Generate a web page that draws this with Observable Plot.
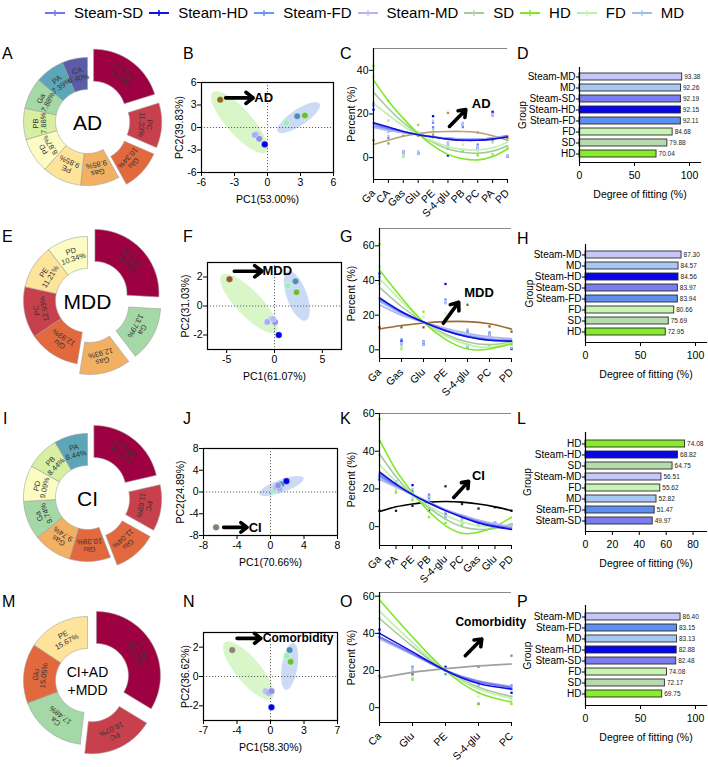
<!DOCTYPE html>
<html><head><meta charset="utf-8">
<script src="https://cdn.jsdelivr.net/npm/d3@7"></script>
<script src="https://cdn.jsdelivr.net/npm/@observablehq/plot@0.6"></script>
<style>
body{margin:0;background:#fff;font-family:"Liberation Sans",Arial,sans-serif;}
#root{position:relative;width:708px;height:767px;overflow:hidden;background:#fff;}
.p{position:absolute;}
.letter{position:absolute;font-size:16px;line-height:16px;color:#000;}
#legend{position:absolute;left:45px;top:4px;display:flex;align-items:center;font-size:15px;white-space:nowrap;}
#legend .it{display:flex;align-items:center;margin-right:6px;}
#legend svg{margin-right:9px;}
</style></head>
<body><div id="root"></div>
<script>
// ---------------- DATA ----------------
const allGroups = ["Steam-SD","Steam-HD","Steam-FD","Steam-MD","SD","HD","FD","MD"];

// Donuts
const adCats = ["S-4-glu","PC","Glu","Gas","PE","PD","PB","Ga","PA","CA"];
const adPct = [20.20,11.33,10.34,9.85,9.85,8.87,7.88,7.88,7.39,6.40];
const mddCats = ["S-4-glu","Ga","Gas","Glu","PC","PE","PD"];
const mddPct = [25.86,13.79,12.93,12.93,12.93,11.21,10.34];
const ciCats = ["S-4-glu","PC","Glu","Glu","Gas","Ga","PD","PB","PA"];
const ciPct = [21.43,11.69,11.04,10.39,9.74,9.74,9.09,8.44,8.44];
const comCats = ["S-4-glu","PC","Ca","Glu","PE"];
const comPct = [33.73,18.07,17.48,15.05,15.67];

// PCA scores
const pcaBGroups = ["AD","MD","HD","FD","Steam-MD","Steam-FD","Steam-SD","Steam-HD"];
const pcaBX = [-4.3,2.7,3.4,1.7,-1.0,-1.15,-0.75,-0.25];
const pcaBY = [3.7,1.5,1.6,0.6,-0.9,-1.0,-1.5,-2.25];
const pcaFGroups = ["MDD","MD","FD","HD","Steam-MD","Steam-FD","Steam-SD","Steam-MD","Steam-HD"];
const pcaFX = [-4.7,2.2,1.4,2.3,-0.35,-0.75,0.05,-0.15,0.45];
const pcaFY = [1.85,1.7,1.4,0.95,-0.9,-1.1,-1.1,-0.9,-2.0];
const pcaJGroups = ["CI","MD","HD","FD","Steam-MD","Steam-FD","Steam-SD","Steam-HD"];
const pcaJX = [-6.5,1.3,1.0,0.4,0.6,1.1,0.9,1.9];
const pcaJY = [-6.5,1.4,0.9,0.3,0.8,0.6,1.2,2.0];
const pcaNGroups = ["Comorbidity","MD","FD","HD","Steam-MD","Steam-FD","Steam-SD","Steam-HD"];
const pcaNX = [-4.0,2.0,1.7,2.1,-0.5,-0.2,0.1,0.1];
const pcaNY = [1.8,1.8,1.4,1.0,-1.0,-1.1,-1.0,-2.1];

// Confidence ellipses: center, semi-axis vector a, semi-axis vector b (PC units)
const ellB = [{cx:-2.55,cy:0.7,ax:2.45,ay:-4.0,bx:0.85,by:1.14,g:"green"},{cx:2.83,cy:1.32,ax:1.9,ay:1.86,bx:0.4,by:-0.9,g:"blue"}];
const ellF = [{cx:-2.65,cy:0.17,ax:2.83,ay:-1.97,bx:0.99,by:0.575,g:"green"},{cx:2.33,cy:0.7,ax:0.92,ay:-1.7,bx:1.0,by:0.22,g:"blue"}];
const ellJ = [{cx:1.3,cy:1.1,ax:2.6,ay:1.6,bx:-0.6,by:0.9,g:"blue"}];
const ellN = [{cx:-2.3,cy:0.4,ax:2.5,ay:-1.9,bx:0.9,by:0.6,g:"green"},{cx:2.0,cy:0.7,ax:0.4,ay:1.6,bx:0.8,by:-0.1,g:"blue"}];

// Line-chart categories; rows follow allGroups then the disease
const adCatsC = ["Ga","CA","Gas","Glu","PE","S-4-glu","PB","PC","PA","PD"];
const adPoints = [
 [25,12,2,2.5,16,6,15.5,5,20,1],
 [22,13,3,2,19,1,15,4,21,0.5],
 [24,9,1,2,14,7,14,6,19.5,0.5],
 [25,12,3,3,17,7,15,5,20,1],
 [37,17,1.5,11,9,5,3.5,1.5,7,5],
 [42,26,0.5,15,13,4,3,1,1.5,4],
 [37,20,1,12,10,6,6,3,9,8],
 [24,10,2,2,13,6,16,4,19,0.5],
 [8,6.5,10,10,10.5,20.5,8,11.5,8,9]];
const adCurves = [
 [15.5,13.5,12,10.5,9.5,8.5,8,8,8.5,10],
 [16,14,12,10.5,9.5,8.5,8,8,8.5,9.5],
 [14.5,13,11.5,10.5,9.5,9,8.5,8.5,9,10],
 [14,12.5,11.5,10.5,9.5,9,8.5,8.5,9,10],
 [30,22.5,16,11,7,4,2.5,2,3,5.5],
 [35.5,26,18,11,5.5,1.5,-0.5,-1,0.5,4],
 [25,19.5,14.5,10.5,7.5,5,3.8,3.5,4.5,7],
 [14,12.5,11.5,10.5,9.5,9,8.5,8.5,9,10],
 [6,8,9.8,11,11.8,12,12,11.5,10,8]];

const mddCatsG = ["Ga","Gas","Glu","PE","S-4-glu","PC","PD"];
const mddPoints = [
 [42,3.5,4,29,11,9,1],
 [44,5,3,38,1.5,8,0.5],
 [40,6,5,27,10,10,4],
 [38,4,3,28,12,8,5],
 [48,2,16,18,3,2,4],
 [61,0.5,22,17,1.5,1.5,3],
 [55,1,19,21,2,2,5],
 [43,3,4.5,27,2,9,1],
 [13,13,13,11.5,26,13.5,10.5]];
const mddCurves = [
 [30,22,16,11,7.5,5.5,5],
 [30,22,16,11,7.5,5.5,5],
 [29,21.5,16,11.5,8,6,5.5],
 [26,20,16,12.5,9.5,7.5,6.5],
 [36,25,16,9,4.5,3,4.5],
 [46,30,16,6,0.5,0.5,3.5],
 [41,28,16,8,3,1.5,4],
 [28,21,16,11.5,8.5,6.5,5.5],
 [12,14,15.5,16.3,16.3,15,12]];

const ciCatsK = ["Ga","PA","PE","PB","S-4-glu","PC","Gas","Glu","PD"];
const ciPoints = [
 [27,23,18,17,7,4,2,2,1],
 [25,24,22,16,6,2,2,2,1],
 [26,23,19,15,5,5,2.5,2,1],
 [28,22,18,16,8,6,3,2,1],
 [38,19,15,10,5,3,1.5,1,1],
 [57,18,14,5,2,1,0.5,0.5,1],
 [45,20,16,8,4,2,1,1,1],
 [26,24,20,14,5,4,1.5,2,1],
 [8.4,8.4,11,8.4,21.4,12,9.6,10.3,8.4]];
const ciCurves = [
 [28,22,17,12.5,8.5,5.5,2.5,0.5,-1],
 [29,22.5,17,12.5,8.5,5,2,0,-1.5],
 [27,21.5,17,12.5,9,5.5,3,1,-0.5],
 [25,21,17,13,9,6,3.5,1.5,0],
 [38.5,26.5,17,10,4,0,-1.5,-1,1.5],
 [46,30,18,8,0.5,-3.5,-3,0,5],
 [33,24,17,11,6,2.5,0.5,0,0.5],
 [26,21,17,13,9,6,3,1,0],
 [8,10.5,12,13,13.3,13,12,10.5,8.5]];

const comCatsO = ["Ca","Glu","PE","S-4-glu","PC"];
const comPoints = [
 [40,20,20,12,10],
 [42,18,22,2,8],
 [38,22,18,14,12],
 [40,20,21,12,11],
 [48,16,20,8,6],
 [60,15,20,2,2],
 [52,18,20,6,4],
 [40,21,20,12,10],
 [17,18,20,22,28]];
const comCurves = [
 [38,29,20,14,11],
 [40,30,20,13,10],
 [38,29,20,14,11],
 [37,28.5,20,14.5,11.5],
 [48,33,20,11,6],
 [58,38,20,8,3],
 [52,35,20,10,5],
 [38,29,20,14,11],
 [16,19,21,22.5,23.5]];

// Degree of fitting bars
const adBarGroups = ["Steam-MD","MD","Steam-SD","Steam-HD","Steam-FD","FD","SD","HD"];
const adBarValues = [93.38,92.26,92.19,92.15,92.11,84.68,79.88,70.04];
const mddBarGroups = ["Steam-MD","MD","Steam-HD","Steam-SD","Steam-FD","FD","SD","HD"];
const mddBarValues = [87.30,84.57,84.56,83.97,83.94,80.66,75.69,72.95];
const ciBarGroups = ["HD","Steam-HD","SD","Steam-MD","FD","MD","Steam-FD","Steam-SD"];
const ciBarValues = [74.08,68.82,64.75,56.51,55.62,52.82,51.47,49.97];
const comBarGroups = ["Steam-MD","Steam-FD","MD","Steam-HD","Steam-SD","FD","SD","HD"];
const comBarValues = [86.40,83.15,83.13,82.88,82.48,74.08,72.17,69.75];

// ---------------- STYLES ----------------
const groupFill = ["#7b7cf0","#0606e8","#5d8ff0","#c6c6f8","#b6dcae","#86ec2c","#c8f4b4","#a8c8f4"];
const curveStroke = ["#7676ec","#1010e0","#6a96ee","#b4b4f2","#a8c8a0","#7ce82a","#bff0a8","#9cbcf0"];
const spectral = {"S-4-glu":"#9e0142","PC":"#c8404c","Glu":"#e2683e","Gas":"#f2b062","PE":"#fde49a","PD":"#fcfcc2","PB":"#d8eea0","Ga":"#a4d8a6","PA":"#5ca6b8","CA":"#5a5ca8","Ca":"#a4d8a6"};
const pcaColor = {"AD":"#8b6d14","MDD":"#8b5a1e","CI":"#8b7b6b","Comorbidity":"#8a8272","MD":"#4b8fb8","HD":"#6cc030","FD":"#98f0b8","Steam-MD":"#b4bcf8","Steam-FD":"#a0b0f0","Steam-SD":"#9090e8","Steam-HD":"#0000ee"};
const ellColor = {green:"#d6f5c4", blue:"#c8d9f6"};
const font = "'Liberation Sans', Arial, sans-serif";
const baseStyle = {background:"transparent", fontFamily:font, fontSize:"10px", overflow:"visible", color:"#000"};
const num = d => String(d);

const root = document.getElementById("root");
function place(node, left, top){ node.classList.add("p"); node.style.left = left+"px"; node.style.top = top+"px"; root.appendChild(node); }

// ---------------- LEGEND ----------------
{
  const lg = document.createElement("div"); lg.id = "legend";
  allGroups.forEach((g,i) => {
    const it = document.createElement("div"); it.className = "it";
    it.innerHTML = `<svg width="20" height="10"><line x1="0" y1="5" x2="20" y2="5" stroke="${curveStroke[i]}" stroke-width="2"/><line x1="10" y1="2" x2="10" y2="8" stroke="${groupFill[i]}" stroke-width="1.5"/></svg><span>${g}</span>`;
    lg.appendChild(it);
  });
  root.appendChild(lg);
}

// ---------------- LETTERS ----------------
[["A",2,46],["B",183,46],["C",340,46],["D",517,46],
 ["E",2,229],["F",183,229],["G",340,229],["H",517,231],
 ["I",3,411],["J",183,411],["K",340,411],["L",517,411],
 ["M",2,594],["N",183,594],["O",340,594],["P",517,594]].forEach(([t,x,y])=>{
  const d = document.createElement("div"); d.className="letter"; d.textContent=t; d.style.left=x+"px"; d.style.top=y+"px"; root.appendChild(d);
});

// ---------------- DONUT ----------------
function donut(cats, pct, nExplode, center, centerSize, cx, cy){
  const size = 176, R = 1, r0 = 0.5, ex = 0.16, half = 1.375;
  const total = d3.sum(pct);
  let a = 0; const polys = [], labs = [];
  pct.forEach((p,k) => {
    const a0 = a, a1 = a + p/total*2*Math.PI; a = a1;
    const m = (a0+a1)/2, e = k < nExplode ? ex : 0;
    const ox = e*Math.sin(m), oy = e*Math.cos(m);
    const steps = Math.max(8, Math.ceil((a1-a0)/0.02));
    const ring = [];
    for (let s=0;s<=steps;s++){ const t=a0+(a1-a0)*s/steps; ring.push([ox+R*Math.sin(t), oy+R*Math.cos(t)]); }
    for (let s=steps;s>=0;s--){ const t=a0+(a1-a0)*s/steps; ring.push([ox+r0*Math.sin(t), oy+r0*Math.cos(t)]); }
    ring.push(ring[0]);
    ring.forEach(([x,y]) => polys.push({k, x, y, c: spectral[cats[k]]}));
    labs.push({x: ox+0.75*Math.sin(m), y: oy+0.75*Math.cos(m), rot: m*180/Math.PI, text: cats[k]+"\n"+p.toFixed(2)+"%"});
  });
  const svg = Plot.plot({
    width:size, height:size, margin:0, style:baseStyle,
    x:{domain:[-half,half], axis:null}, y:{domain:[-half,half], axis:null},
    color:{type:"identity"},
    marks:[
      Plot.line(polys, {x:"x", y:"y", z:"k", fill:"c", stroke:"#a0a0a0", strokeWidth:0.6, curve:"linear"}),
      Plot.text(labs, {x:"x", y:"y", text:"text", rotate:"rot", fontSize:7.5, fill:"#333", lineHeight:1.05}),
      Plot.text([center], {x:0, y:0, text:d=>d, fontSize:centerSize, fill:"#000", lineHeight:1.25})
    ]
  });
  place(svg, cx - size/2, cy - size/2);
}
donut(adCats, adPct, 3, "AD", 21, 87, 121);
donut(mddCats, mddPct, 3, "MDD", 21, 87, 300);
donut(ciCats, ciPct, 3, "CI", 21, 87, 497);
donut(comCats, comPct, 2, "CI+AD\n+MDD", 14, 87, 680);

// ---------------- PCA ----------------
function pca(o){
  const pts = o.groups.map((g,i)=>({g, x:o.xs[i], y:o.ys[i]}));
  const ell = [];
  o.ells.forEach((e,k)=>{ for(let s=0;s<=96;s++){ const t=s/96*2*Math.PI; ell.push({k, c:ellColor[e.g], x:e.cx+e.ax*Math.cos(t)+e.bx*Math.sin(t), y:e.cy+e.ay*Math.cos(t)+e.by*Math.sin(t)}); } });
  const svg = Plot.plot({
    width:o.w, height:o.h, marginLeft:o.m[0], marginRight:o.m[1], marginTop:o.m[2], marginBottom:o.m[3],
    style:baseStyle,
    x:{domain:o.xdom}, y:{domain:o.ydom},
    color:{type:"identity"},
    marks:[
      Plot.line(ell, {x:"x", y:"y", z:"k", fill:"c", stroke:"none", fillOpacity:0.95}),
      Plot.ruleX([0], {stroke:"#666", strokeDasharray:"1.2,1.8", strokeWidth:1}),
      Plot.ruleY([0], {stroke:"#666", strokeDasharray:"1.2,1.8", strokeWidth:1}),
      Plot.dot(pts, {x:"x", y:"y", fill:d=>pcaColor[d.g], r:3.3, stroke:"#ffffff", strokeWidth:0.4}),
      Plot.arrow([o.arrow], {x1:"x1", y1:"y", x2:"x2", y2:"y", stroke:"#000", strokeWidth:3.6, headLength:9, headAngle:75}),
      Plot.text([o.arrow], {x:"tx", y:"y", text:"label", textAnchor:"start", fontSize:o.fs||13, fontWeight:"bold", fill:"#000"}),
      Plot.frame({stroke:"#000", strokeWidth:1.2}),
      Plot.axisX({ticks:o.xticks, tickSize:4, tickPadding:2, tickFormat:o.xfmt||num, label:o.xlabel, labelAnchor:"center", labelArrow:"none", labelOffset:o.xlo||30, fontSize:10.5}),
      Plot.axisY({ticks:o.yticks, tickSize:4, tickPadding:1, tickFormat:num, label:o.ylabel, labelAnchor:"center", labelArrow:"none", labelOffset:o.ylo||26, fontSize:10.5})
    ]
  });
  place(svg, o.left, o.top);
}
pca({left:175, top:55, w:180, h:155, m:[26,22,27,38], xdom:[-6,6], ydom:[-6,6], xticks:[-6,-3,0,3,6], yticks:[-6,-3,0,3,6],
  xlabel:"PC1(53.00%)", ylabel:"PC2(39.83%)", groups:pcaBGroups, xs:pcaBX, ys:pcaBY, ells:ellB,
  arrow:{x1:-3.8, x2:-1.3, y:3.95, tx:-1.2, label:"AD"}, ylo:26});
pca({left:175, top:235, w:180, h:155, m:[32,14,27,41], xdom:[-7,7], ydom:[-3,3], xticks:[-5,0,5], yticks:[-2,0,2],
  xlabel:"PC1(61.07%)", ylabel:"PC2(31.03%)", groups:pcaFGroups, xs:pcaFX, ys:pcaFY, ells:ellF,
  arrow:{x1:-4.2, x2:-1.3, y:2.4, tx:-1.25, label:"MDD"}, ylo:26});
pca({left:175, top:420, w:180, h:155, m:[28,18,28,40], xdom:[-8,8], ydom:[-8,8], xticks:[-8,-4,0,4,8], yticks:[-8,-4,0,4,8],
  xlabel:"PC1(70.66%)", ylabel:"PC2(24.89%)", groups:pcaJGroups, xs:pcaJX, ys:pcaJY, ells:ellJ,
  arrow:{x1:-5.6, x2:-2.8, y:-6.5, tx:-2.6, label:"CI"}, ylo:27});
pca({left:175, top:605, w:180, h:160, m:[28,18,27,45], xdom:[-7,7], ydom:[-3,3], xticks:[-7,-3.5,0,3.5,7], yticks:[-2,0,2],
  xfmt:d=>String(Math.floor(d)), xlabel:"PC1(58.30%)", ylabel:"PC2(36.62%)", groups:pcaNGroups, xs:pcaNX, ys:pcaNY, ells:ellN,
  arrow:{x1:-3.5, x2:-1.0, y:2.6, tx:-0.8, label:"Comorbidity"}, ylo:22, fs:12});

// ---------------- LINE CHARTS ----------------
function lineChart(o){
  const series = [...allGroups, o.disease];
  const ptData = [], cvData = [];
  o.points.forEach((row,gi)=>row.forEach((v,i)=>ptData.push({g:series[gi], i, v})));
  o.curves.forEach((row,gi)=>row.forEach((v,i)=>cvData.push({g:series[gi], i, v})));
  const order = [8,4,6,5,7,2,3,0,1];
  const cvSorted = order.flatMap(gi => cvData.filter(d=>d.g===series[gi]));
  const n = o.cats.length;
  const svg = Plot.plot({
    width:o.w, height:o.h, marginLeft:o.m[0], marginRight:o.m[1], marginTop:o.m[2], marginBottom:o.m[3],
    style:baseStyle,
    x:{domain:[0,n-1]}, y:{domain:o.ydom},
    color:{domain:series, range:[...curveStroke, o.dcolor]},
    marks:[
      Plot.ruleY([o.ydom[1]], {stroke:"#888", strokeWidth:1}),
      Plot.dot(ptData, {x:"i", y:"v", fill:d=> d.g===o.disease ? o.dpoint : groupFill[allGroups.indexOf(d.g)], symbol:"square", r:1.3}),
      Plot.line(cvSorted, {x:"i", y:"v", z:"g", stroke:"g", curve:"natural", strokeWidth:1.6}),
      Plot.arrow([o.arrow], {x1:"x1", y1:"y1", x2:"x2", y2:"y2", stroke:"#000", strokeWidth:3.6, headLength:9, headAngle:75}),
      Plot.text([o.arrow], {x:"tx", y:"ty", text:"label", textAnchor:"start", fontSize:o.fs||13, fontWeight:"bold", fill:"#000"}),
      Plot.ruleX([0], {stroke:"#000", strokeWidth:1.2}),
      Plot.ruleY([o.ydom[0]], {stroke:"#000", strokeWidth:1.2}),
      Plot.axisY({ticks:o.yticks, tickSize:4, tickPadding:1, tickFormat:num, label:"Percent (%)", labelAnchor:"center", labelArrow:"none", labelOffset:o.ylo||26, fontSize:10.5}),
      Plot.axisX({ticks:d3.range(n), tickFormat:i=>o.cats[i], tickRotate:-45, tickSize:4, label:null, fontSize:10.5})
    ]
  });
  place(svg, o.left, o.top);
}
lineChart({left:340, top:25, w:185, h:185, m:[33,18,23,31], ydom:[-10,50], yticks:[0,20,40], cats:adCatsC,
  points:adPoints, curves:adCurves, disease:"AD", dcolor:"#b8a276", dpoint:"#b09060",
  arrow:{x1:5.1, y1:14.3, x2:6.2, y2:22, tx:6.6, ty:24.5, label:"AD"}, ylo:26});
lineChart({left:340, top:205, w:185, h:185, m:[39,14,23,32], ydom:[-5,70], yticks:[0,20,40,60], cats:mddCatsG,
  points:mddPoints, curves:mddCurves, disease:"MDD", dcolor:"#9c6a2a", dpoint:"#8a6020",
  arrow:{x1:2.9, y1:15.3, x2:3.6, y2:27.5, tx:3.85, ty:33, label:"MDD"}, ylo:32});
lineChart({left:340, top:390, w:185, h:185, m:[39,14,23,30], ydom:[-10,60], yticks:[0,20,40,60], cats:ciCatsK,
  points:ciPoints, curves:ciCurves, disease:"CI", dcolor:"#000000", dpoint:"#222222",
  arrow:{x1:4.5, y1:15.5, x2:5.4, y2:24, tx:5.6, ty:27, label:"CI"}, ylo:32});
lineChart({left:340, top:570, w:185, h:197, m:[39,14,22,45], ydom:[-8,62], yticks:[0,20,40,60], cats:comCatsO,
  points:comPoints, curves:comCurves, disease:"Comorbidity", dcolor:"#a0a0a0", dpoint:"#888888",
  arrow:{x1:2.6, y1:28, x2:3.1, y2:37, tx:2.3, ty:46, label:"Comorbidity"}, ylo:32, fs:12});

// ---------------- BAR CHARTS ----------------
function bars(o){
  const data = o.groups.map((g,i)=>({g, v:o.values[i]}));
  const svg = Plot.plot({
    width:o.w, height:o.h, marginLeft:o.m[0], marginRight:o.m[1], marginTop:o.m[2], marginBottom:o.m[3],
    style:baseStyle,
    x:{domain:o.xdom}, y:{domain:o.groups, padding:0.38},
    color:{domain:allGroups, range:groupFill},
    marks:[
      Plot.barX(data, {x:"v", y:"g", fill:"g", stroke:"#2a2a2a", strokeWidth:0.9}),
      Plot.text(data, {x:"v", y:"g", text:d=>d.v.toFixed(2), dx:2, textAnchor:"start", fontSize:6.5, fill:"#222"}),
      Plot.ruleX([0], {stroke:"#000", strokeWidth:1.2}),
      Plot.frame({anchor:"bottom", stroke:"#000", strokeWidth:1.2}),
      Plot.axisY({tickSize:3, tickPadding:1, label:"Group", labelAnchor:"center", labelArrow:"none", labelOffset:o.ylo, fontSize:10}),
      Plot.axisX({ticks:o.xticks, tickSize:4, tickFormat:num, label:"Degree of fitting (%)", labelAnchor:"center", labelArrow:"none", labelOffset:35, fontSize:10.5})
    ]
  });
  place(svg, o.left, o.top);
}
bars({left:515, top:55, w:193, h:150, m:[64,8,12,43], xdom:[0,110], xticks:[0,50,100], groups:adBarGroups, values:adBarValues, ylo:61});
bars({left:515, top:232, w:193, h:155, m:[70,2,12,45], xdom:[0,110], xticks:[0,50,100], groups:mddBarGroups, values:mddBarValues, ylo:60});
bars({left:515, top:420, w:193, h:155, m:[70,2,12,44], xdom:[0,90], xticks:[0,20,40,60,80], groups:ciBarGroups, values:ciBarValues, ylo:62});
bars({left:515, top:593, w:193, h:170, m:[70,2,12,58], xdom:[0,110], xticks:[0,50,100], groups:comBarGroups, values:comBarValues, ylo:62});
</script></body></html>
